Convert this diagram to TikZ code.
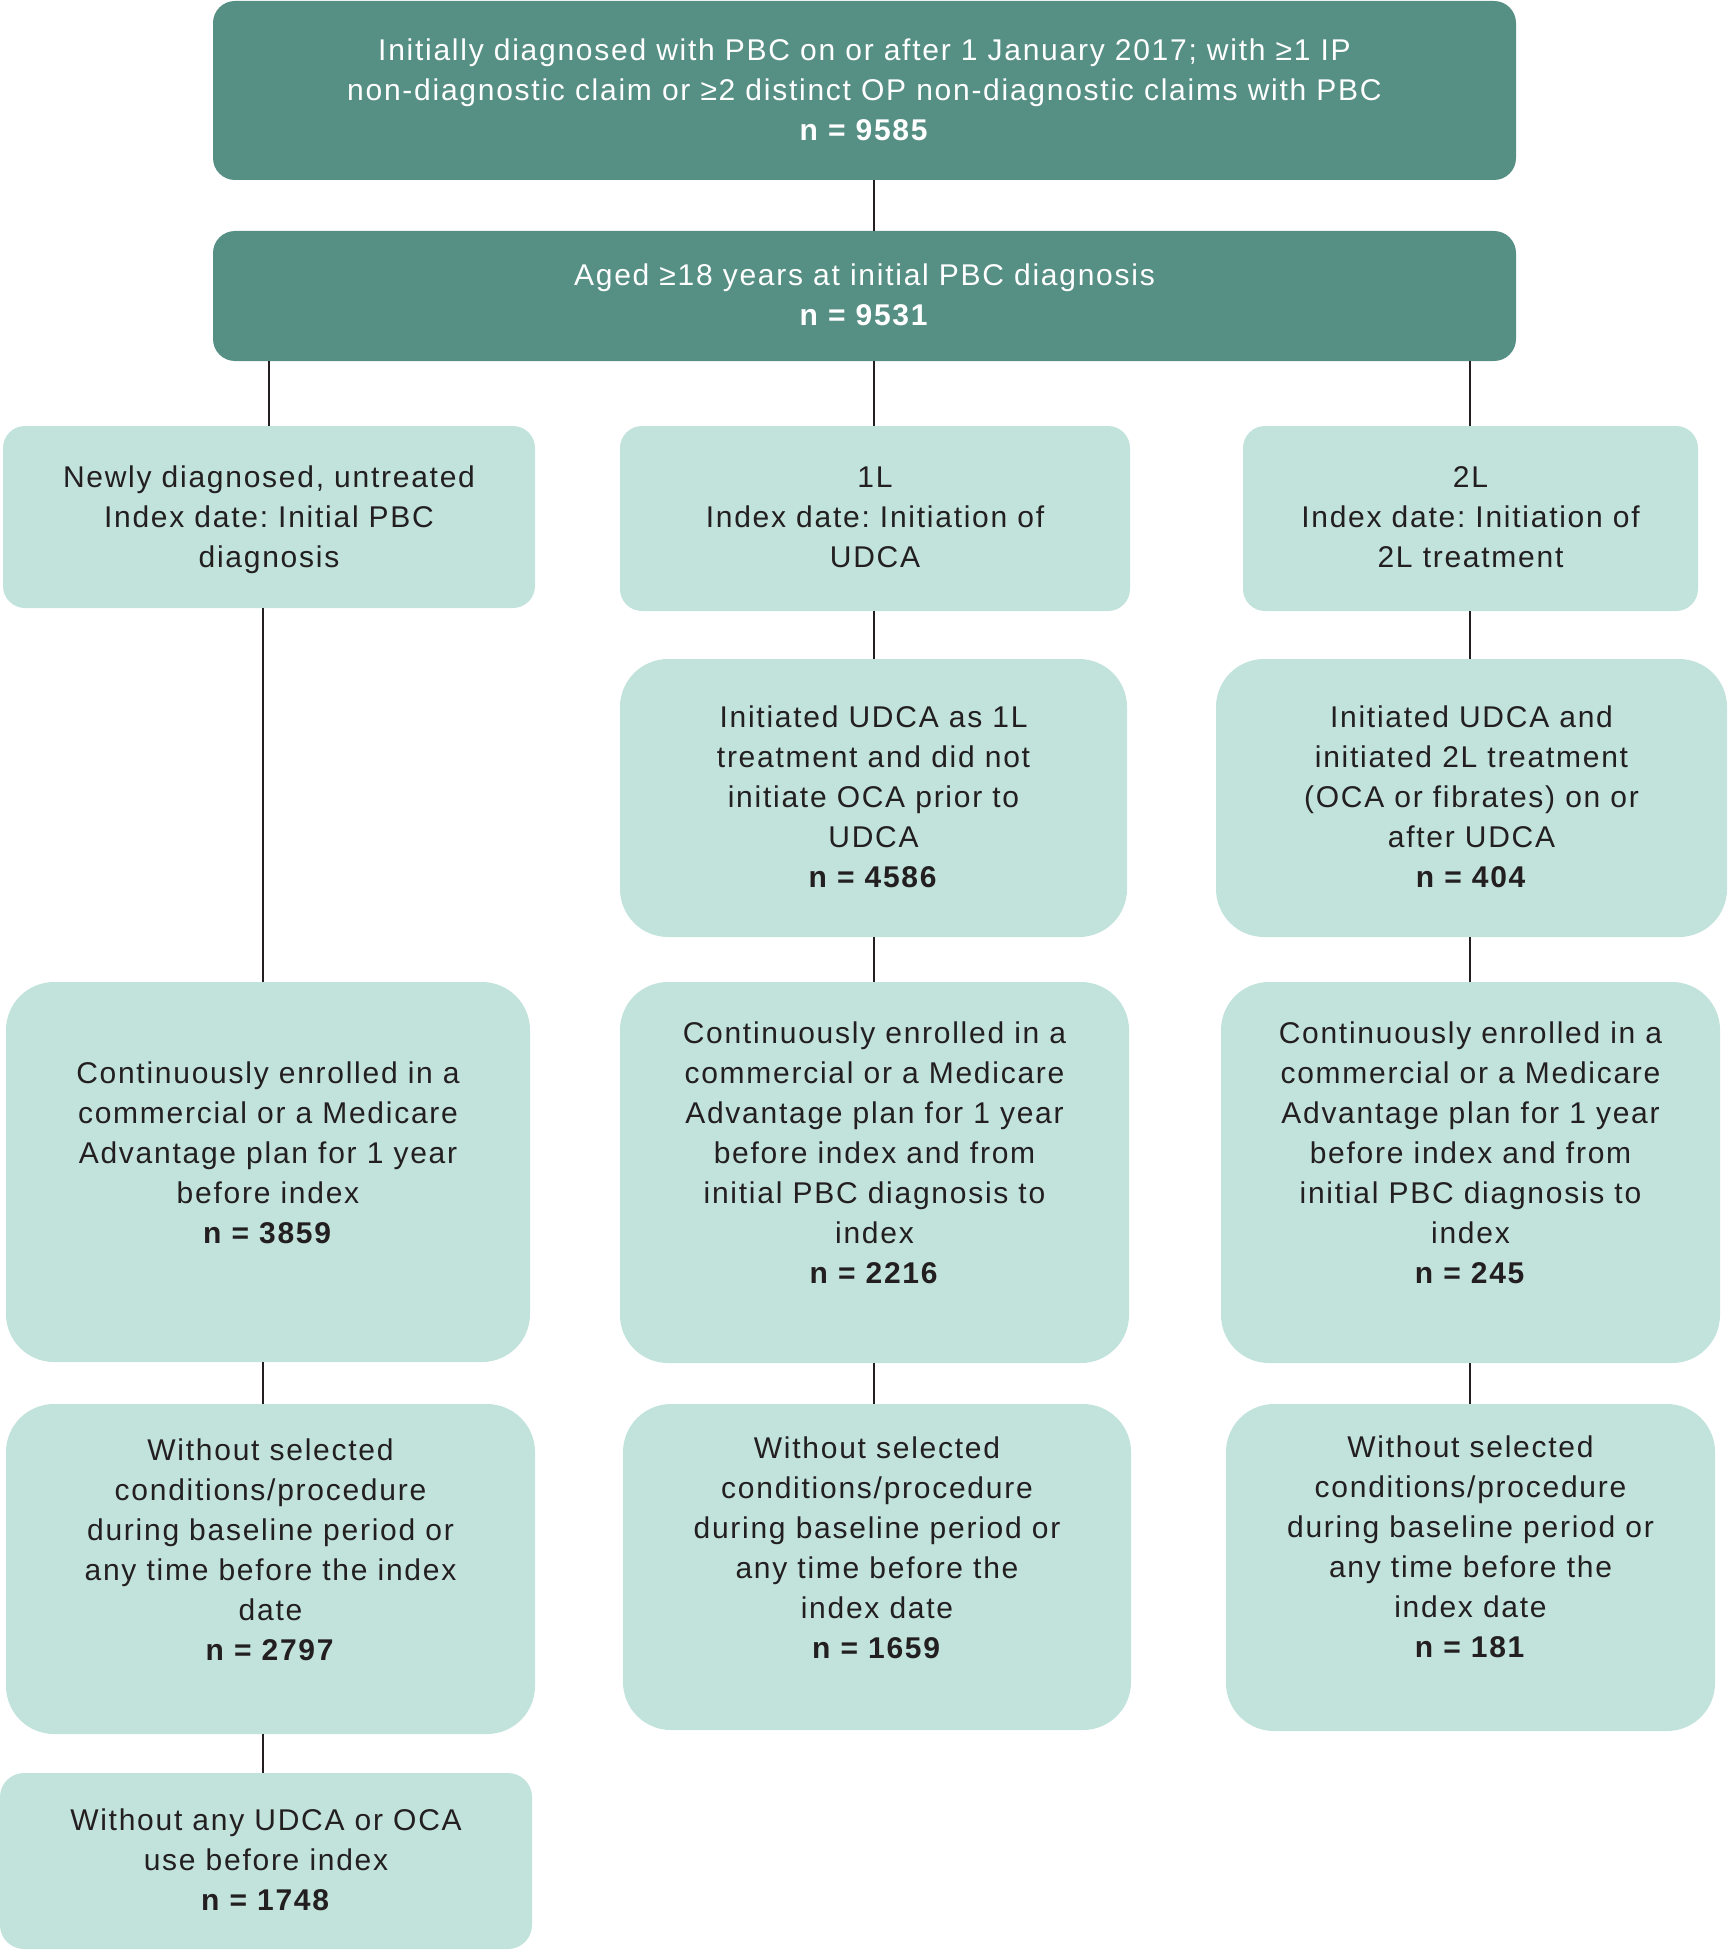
\documentclass[tikz,border=0pt]{standalone}
\usepackage{fontspec}
\setmainfont{Liberation Sans}[LetterSpace=5.8]
\definecolor{darkteal}{HTML}{568F84}
\definecolor{lightteal}{HTML}{C1E3DB}
\definecolor{ink}{HTML}{231F20}
\begin{document}
\frenchspacing
\begin{tikzpicture}[x=1pt,y=-1pt,
  dbox/.style={fill=darkteal,draw=none,inner sep=0pt,rounded corners=22pt},
  lbox/.style={fill=lightteal,draw=none,inner sep=0pt},
  txt/.style={align=center,inner sep=0pt,text=ink,font=\fontsize{30}{40}\selectfont\frenchspacing},
  wtxt/.style={txt,text=white},
  conn/.style={draw=ink,line width=2pt}]
\useasboundingbox (0,0) rectangle (1728,1950);
% boxes
\node[dbox,minimum width=1303pt,minimum height=179pt] (top) at (864.5,90.5) {};
\node[dbox,minimum width=1303pt,minimum height=130pt] (age) at (864.5,296) {};
\node[lbox,rounded corners=22pt,minimum width=532pt,minimum height=182pt] (r1L) at (269,517) {};
\node[lbox,rounded corners=22pt,minimum width=510pt,minimum height=185pt] (r1M) at (875,518.5) {};
\node[lbox,rounded corners=22pt,minimum width=455pt,minimum height=185pt] (r1R) at (1470.5,518.5) {};
\node[lbox,rounded corners=48pt,minimum width=507pt,minimum height=278pt] (r2M) at (873.5,798) {};
\node[lbox,rounded corners=48pt,minimum width=511pt,minimum height=278pt] (r2R) at (1471.5,798) {};
\node[lbox,rounded corners=48pt,minimum width=524pt,minimum height=380pt] (r3L) at (268,1172) {};
\node[lbox,rounded corners=48pt,minimum width=509pt,minimum height=381pt] (r3M) at (874.5,1172.5) {};
\node[lbox,rounded corners=48pt,minimum width=499pt,minimum height=381pt] (r3R) at (1470.5,1172.5) {};
\node[lbox,rounded corners=48pt,minimum width=529pt,minimum height=330pt] (r4L) at (270.5,1569) {};
\node[lbox,rounded corners=48pt,minimum width=508pt,minimum height=326pt] (r4M) at (877,1567) {};
\node[lbox,rounded corners=48pt,minimum width=489pt,minimum height=327pt] (r4R) at (1470.5,1567.5) {};
\node[lbox,rounded corners=24pt,minimum width=532pt,minimum height=176pt] (r5L) at (266,1861) {};
% texts
\node[wtxt] (topt) at (864.5,89.3) {Initially diagnosed with PBC on or after 1 January 2017; with ≥1 IP\\non-diagnostic claim or ≥2 distinct OP non-diagnostic claims with PBC\\\textbf{n = 9585}};
\node[wtxt] (aget) at (864.5,295) {Aged ≥18 years at initial PBC diagnosis\\\textbf{n = 9531}};
\node[txt] (r1Lt) at (269,520) {Newly diagnosed, untreated\\Index date: Initial PBC\\diagnosis};
\node[txt] (r1Mt) at (875,517) {1L\\Index date: Initiation of\\UDCA};
\node[txt] (r1Rt) at (1470.5,517) {2L\\Index date: Initiation of\\2L treatment};
\node[txt] (r2Mt) at (873.5,796.5) {Initiated UDCA as 1L\\treatment and did not\\initiate OCA prior to\\UDCA\\\textbf{n = 4586}};
\node[txt] (r2Rt) at (1471.5,796.5) {Initiated UDCA and\\initiated 2L treatment\\(OCA or fibrates) on or\\after UDCA\\\textbf{n = 404}};
\node[txt] (r3Lt) at (268,1153) {Continuously enrolled in a\\commercial or a Medicare\\Advantage plan for 1 year\\before index\\\textbf{n = 3859}};
\node[txt] (r3Mt) at (874.5,1153) {Continuously enrolled in a\\commercial or a Medicare\\Advantage plan for 1 year\\before index and from\\initial PBC diagnosis to\\index\\\textbf{n = 2216}};
\node[txt] (r3Rt) at (1470.5,1153) {Continuously enrolled in a\\commercial or a Medicare\\Advantage plan for 1 year\\before index and from\\initial PBC diagnosis to\\index\\\textbf{n = 245}};
\node[txt] (r4Lt) at (270.5,1550) {Without selected\\conditions/procedure\\during baseline period or\\any time before the index\\date\\\textbf{n = 2797}};
\node[txt] (r4Mt) at (877,1548) {Without selected\\conditions/procedure\\during baseline period or\\any time before the\\index date\\\textbf{n = 1659}};
\node[txt] (r4Rt) at (1470.5,1547) {Without selected\\conditions/procedure\\during baseline period or\\any time before the\\index date\\\textbf{n = 181}};
\node[txt] (r5Lt) at (266,1860) {Without any UDCA or OCA\\use before index\\\textbf{n = 1748}};
% connector columns
\coordinate (xA) at (269,0);
\coordinate (xL) at (263,0);
\coordinate (xM) at (874,0);
\coordinate (xR) at (1470,0);
% connectors
\draw[conn] (top.south -| xM) -- (age.north -| xM);
\draw[conn] (age.south -| xA) -- (r1L.north -| xA);
\draw[conn] (age.south -| xM) -- (r1M.north -| xM);
\draw[conn] (age.south -| xR) -- (r1R.north -| xR);
\draw[conn] (r1L.south -| xL) -- (r3L.north -| xL);
\draw[conn] (r1M.south -| xM) -- (r2M.north -| xM);
\draw[conn] (r1R.south -| xR) -- (r2R.north -| xR);
\draw[conn] (r2M.south -| xM) -- (r3M.north -| xM);
\draw[conn] (r2R.south -| xR) -- (r3R.north -| xR);
\draw[conn] (r3L.south -| xL) -- (r4L.north -| xL);
\draw[conn] (r3M.south -| xM) -- (r4M.north -| xM);
\draw[conn] (r3R.south -| xR) -- (r4R.north -| xR);
\draw[conn] (r4L.south -| xL) -- (r5L.north -| xL);
\end{tikzpicture}
\end{document}
